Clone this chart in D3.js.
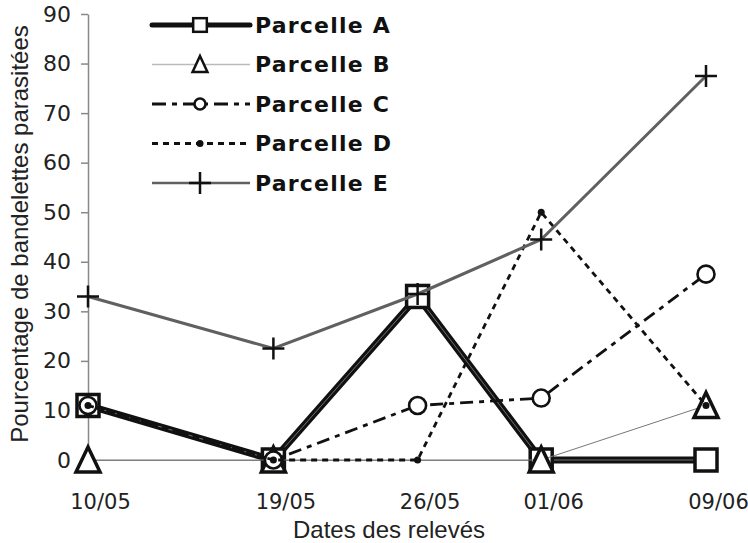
<!DOCTYPE html>
<html>
<head>
<meta charset="utf-8">
<script src="https://cdn.jsdelivr.net/npm/d3@7.9.0/dist/d3.min.js"></script>
<style>
  body { margin: 0; background: #fff; }
  svg { display: block; }
</style>
</head>
<body>
<div id="chart"></div>
<script>
// relevés (jour/mois)
const dates = ['10/05', '19/05', '26/05', '01/06', '09/06'];
const parcelleA = [11, 0, 33, 0, 0];
const parcelleB = [0, 0, null, 0, 11];
const parcelleC = [11, 0, 11, 12.5, 37.5];
const parcelleD = [11, 0, 0, 50, 11];
const parcelleE = [33, 22.5, 33.5, 44.5, 77.5];
const yTicks = [0, 10, 20, 30, 40, 50, 60, 70, 80, 90];

const parseDate = (s) => {
  const [d, m] = s.split('/').map(Number);
  return new Date(Date.UTC(2010, m - 1, d));
};

const series = [
  { name: 'Parcelle A', values: parcelleA, marker: 'square' },
  { name: 'Parcelle B', values: parcelleB, marker: 'triangle' },
  { name: 'Parcelle C', values: parcelleC, marker: 'circle' },
  { name: 'Parcelle D', values: parcelleD, marker: 'dot' },
  { name: 'Parcelle E', values: parcelleE, marker: 'plus' },
];

const width = 748;
const height = 543;
const area = { left: 88, right: 706, top: 14, bottom: 460 };

const svg = d3.select('#chart')
  .append('svg')
  .attr('width', width)
  .attr('height', height);

const xScale = d3.scaleUtc()
  .domain([parseDate(dates[0]), parseDate(dates[dates.length - 1])])
  .range([area.left, area.right]);

const yScale = d3.scaleLinear().domain([0, 90]).range([area.bottom, area.top]);

// axes
const yAxis = svg.append('g')
  .attr('transform', `translate(${area.left},0)`)
  .call(d3.axisLeft(yScale).tickValues(yTicks).tickSize(7).tickSizeOuter(0).tickPadding(10));
yAxis.select('.domain').attr('stroke', '#888').attr('stroke-width', 1.5);
yAxis.selectAll('.tick line').attr('stroke', '#888').attr('stroke-width', 1.5);
yAxis.selectAll('.tick text')
  .attr('fill', '#222')
  .style('font-family', '"DejaVu Sans", Verdana, sans-serif')
  .style('font-size', '22px');

const xAxis = svg.append('g')
  .attr('transform', `translate(0,${area.bottom})`)
  .call(d3.axisBottom(xScale)
    .tickValues(dates.map(parseDate))
    .tickFormat(d3.utcFormat('%d/%m'))
    .tickSize(0)
    .tickSizeOuter(0)
    .tickPadding(34));
xAxis.select('.domain').attr('stroke', '#888').attr('stroke-width', 1.2);
xAxis.selectAll('.tick text')
  .attr('dx', 12)
  .attr('fill', '#222')
  .style('font-family', '"DejaVu Sans", Verdana, sans-serif')
  .style('font-size', '21px');

// titres des axes
svg.append('text')
  .attr('transform', 'translate(28,234) rotate(-90)')
  .attr('text-anchor', 'middle')
  .attr('fill', '#222')
  .style('font-family', '"Liberation Sans", Arial, sans-serif')
  .style('font-size', '24px')
  .text('Pourcentage de bandelettes parasitées');

svg.append('text')
  .attr('x', 389)
  .attr('y', 538)
  .attr('text-anchor', 'middle')
  .attr('fill', '#222')
  .style('font-family', '"Liberation Sans", Arial, sans-serif')
  .style('font-size', '24px')
  .text('Dates des relevés');

// line styles
const styles = {
  'Parcelle A': { stroke: '#111', width: 7, dash: null },
  'Parcelle B': { stroke: '#777', width: 1, dash: null },
  'Parcelle C': { stroke: '#111', width: 2.8, dash: '13,6,5,6' },
  'Parcelle D': { stroke: '#111', width: 2.8, dash: '6,5' },
  'Parcelle E': { stroke: '#606060', width: 3, dash: null },
};
const legendStyles = {
  'Parcelle A': { stroke: '#111', width: 5, dash: null },
  'Parcelle B': { stroke: '#bbb', width: 1.5, dash: null },
  'Parcelle C': { stroke: '#111', width: 2.8, dash: '14,6,5,6' },
  'Parcelle D': { stroke: '#111', width: 2.8, dash: '6,5' },
  'Parcelle E': { stroke: '#606060', width: 2.5, dash: null },
};

function drawMarker(g, type, cx, cy, big) {
  const k = big ? 1 : 0.62;
  if (type === 'square') {
    const s = 22 * k;
    g.append('rect')
      .attr('x', cx - s / 2).attr('y', cy - s / 2)
      .attr('width', s).attr('height', s)
      .attr('fill', '#fff').attr('stroke', '#111').attr('stroke-width', big ? 3.5 : 2.5);
  } else if (type === 'triangle') {
    const h = 12 * k;
    g.append('path')
      .attr('d', `M${cx},${cy - h - 1}L${cx + h},${cy + h}L${cx - h},${cy + h}Z`)
      .attr('fill', '#fff').attr('stroke', '#111').attr('stroke-width', big ? 3.5 : 2.5)
      .attr('stroke-linejoin', 'miter');
  } else if (type === 'circle') {
    g.append('circle')
      .attr('cx', cx).attr('cy', cy).attr('r', big ? 8.5 : 5.5)
      .attr('fill', '#fff').attr('stroke', '#111').attr('stroke-width', 2.6);
  } else if (type === 'dot') {
    g.append('circle')
      .attr('cx', cx).attr('cy', cy).attr('r', 3.5)
      .attr('fill', '#111');
  } else if (type === 'plus') {
    const a = 11;
    g.append('path')
      .attr('d', `M${cx - a},${cy}H${cx + a}M${cx},${cy - a}V${cy + a}`)
      .attr('fill', 'none').attr('stroke', '#111').attr('stroke-width', 2.5);
  }
}

const line = d3.line()
  .x((d) => xScale(d.date))
  .y((d) => yScale(d.value));

const plot = svg.append('g').attr('class', 'series');

series.forEach((s) => {
  const pts = s.values
    .map((v, i) => ({ date: parseDate(dates[i]), value: v }))
    .filter((d) => d.value !== null);
  const st = styles[s.name];
  const g = plot.append('g');
  g.append('path')
    .datum(pts)
    .attr('d', line)
    .attr('fill', 'none')
    .attr('stroke', st.stroke)
    .attr('stroke-width', st.width)
    .attr('stroke-dasharray', st.dash)
    .attr('stroke-linejoin', 'miter');
  if (s.name === 'Parcelle A') {
    // thin light core of the thick line
    g.append('path')
      .datum(pts)
      .attr('d', line)
      .attr('fill', 'none')
      .attr('stroke', '#8a8a8a')
      .attr('stroke-width', 0.8);
  }
  pts.forEach((d) => drawMarker(g, s.marker, xScale(d.date), yScale(d.value), true));
});

// legend
const legend = svg.append('g').attr('class', 'legend');
series.forEach((s, i) => {
  const y = 25 + i * 39.5;
  const st = legendStyles[s.name];
  const g = legend.append('g');
  g.append('line')
    .attr('x1', 152).attr('x2', 250)
    .attr('y1', y).attr('y2', y)
    .attr('stroke', st.stroke)
    .attr('stroke-width', st.width)
    .attr('stroke-dasharray', st.dash)
    .attr('stroke-linecap', s.name === 'Parcelle A' ? 'round' : 'butt');
  drawMarker(g, s.marker, 200, y, false);
  g.append('text')
    .attr('x', 255)
    .attr('y', y)
    .attr('dy', '0.36em')
    .attr('fill', '#111')
    .style('font-family', '"DejaVu Sans", Verdana, sans-serif')
    .style('font-weight', 'bold')
    .style('font-size', '22px')
    .style('letter-spacing', '1.2px')
    .text(s.name);
});
</script>
</body>
</html>
